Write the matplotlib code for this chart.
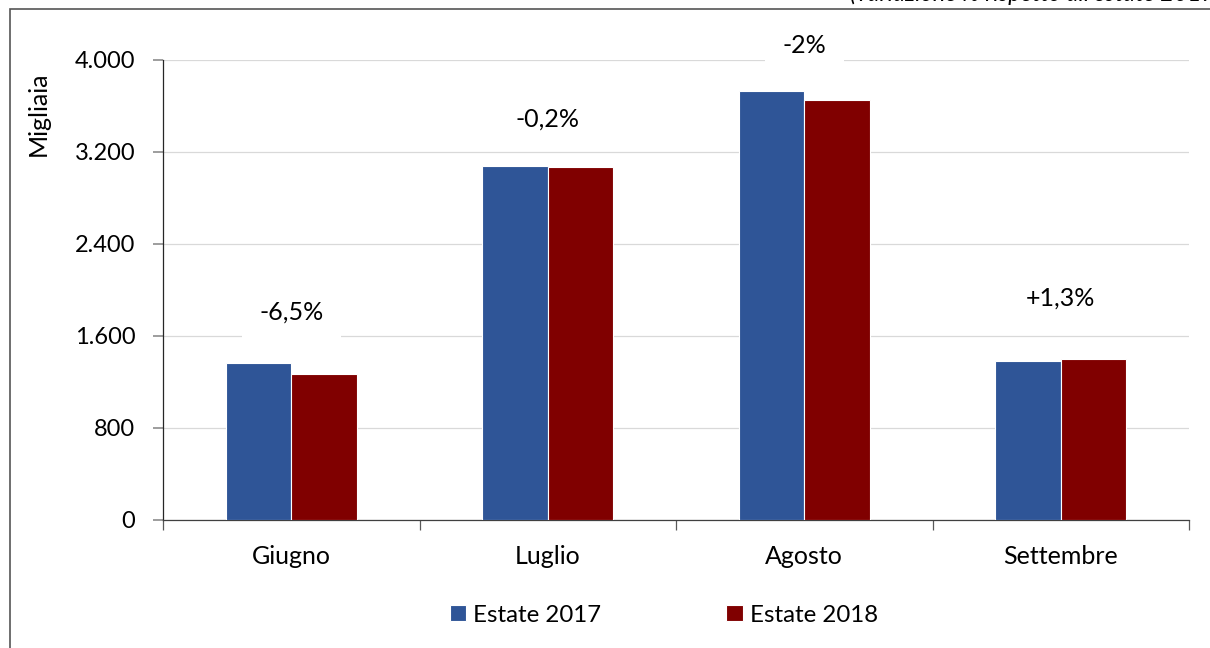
import matplotlib
matplotlib.use("Agg")
import matplotlib.pyplot as plt
from matplotlib.ticker import FuncFormatter, FixedLocator
from matplotlib.patches import Rectangle
import numpy as np

plt.rcParams['font.family'] = ['Lato', 'DejaVu Sans']

categories = ["Giugno", "Luglio", "Agosto", "Settembre"]
estate_2017 = [1363, 3078, 3728, 1383]
estate_2018 = [1273, 3070, 3650, 1400]
variation_labels = ["-6,5%", "-0,2%", "-2%", "+1,3%"]
label_y = [1810, 3490, 4130, 1930]
yticks = [0, 800, 1600, 2400, 3200, 4000]

blue = "#2F5597"
red = "#800000"

fig = plt.figure(figsize=(12.10, 6.48), dpi=100)
ax = fig.add_axes([163/1210, 1 - 520/648, (1189-163)/1210, (520-60)/648])

x = np.arange(len(categories))
w = 0.256
ax.bar(x - w/2, estate_2017, width=w, color=blue, edgecolor="white", linewidth=0.8,
       label="Estate 2017", zorder=3)
ax.bar(x + w/2, estate_2018, width=w, color=red, edgecolor="white", linewidth=0.8,
       label="Estate 2018", zorder=3)

ax.set_xlim(-0.5, len(categories) - 0.5)
ax.set_ylim(0, 4000)
ax.yaxis.set_major_locator(FixedLocator(yticks))
ax.yaxis.set_major_formatter(FuncFormatter(lambda v, p: f"{int(v):,}".replace(",", ".")))
ax.grid(axis="y", color="#D9D9D9", linewidth=0.9, zorder=0)
ax.set_axisbelow(True)

ax.set_xticks(x)
ax.set_xticklabels(categories, fontsize=18)
ax.set_xticks(np.arange(len(categories) + 1) - 0.5, minor=True)
ax.tick_params(axis="x", which="major", length=0, pad=18)
ax.tick_params(axis="x", which="minor", length=7, color="#595959", width=0.9, direction="out")
ax.tick_params(axis="y", labelsize=17, length=7, color="#8C8C8C", width=1.2, pad=13)

for s in ["top", "right"]:
    ax.spines[s].set_visible(False)
ax.spines["left"].set_color("#262626")
ax.spines["bottom"].set_color("#404040")
ax.spines["left"].set_linewidth(0.9)
ax.spines["bottom"].set_linewidth(0.9)

for xi, lab, yy in zip(x, variation_labels, label_y):
    ax.text(xi, yy, lab, ha="center", va="center", fontsize=18, zorder=4,
            bbox=dict(boxstyle="square,pad=0.7", facecolor="white", edgecolor="none"))

fig.text(38/1210, 1 - 114/648, "Migliaia", rotation=90, ha="center", va="center", fontsize=18)

fig.text(1222/1210, 1 - 5/648, "(variazione % rispetto all'estate 2017)", ha="right", va="bottom",
         fontsize=17, style="italic")

border = Rectangle((10/1210, -0.05), 1.1, 1 - 9/648 + 0.05, transform=fig.transFigure,
                   fill=False, edgecolor="#555555", linewidth=1.2, clip_on=False)
fig.add_artist(border)

leg = fig.legend(loc="center", bbox_to_anchor=(664/1210, 1 - 615/648), ncol=2, frameon=False,
                 fontsize=17.3, handlelength=0.68, handleheight=0.68, handletextpad=0.3,
                 columnspacing=5.2)

fig.savefig("out.png", dpi=100)
